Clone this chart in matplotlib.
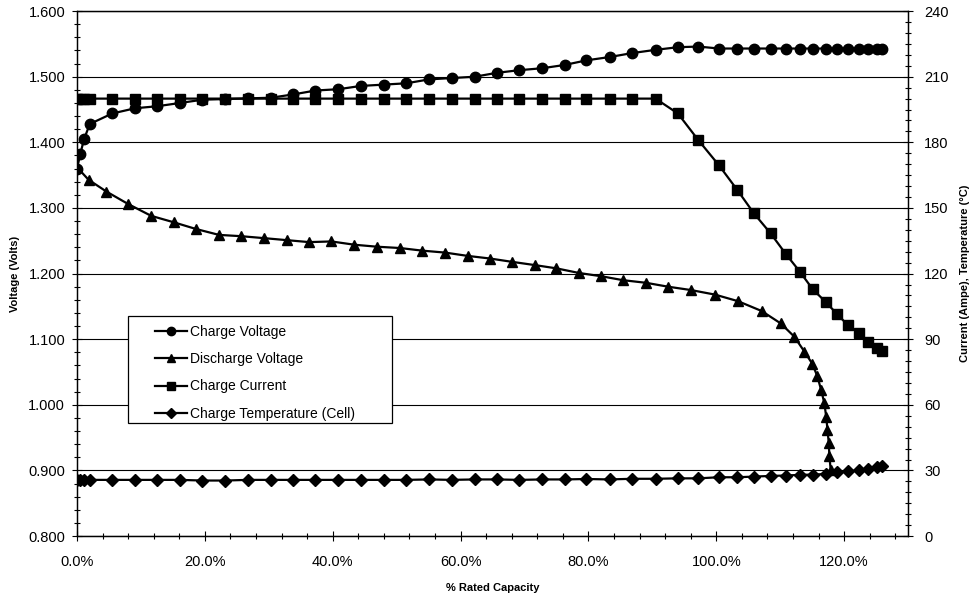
import numpy as np
import matplotlib.pyplot as plt
from matplotlib.patches import Rectangle
from matplotlib.ticker import MultipleLocator, FuncFormatter

plt.rcParams['font.family'] = ['Liberation Sans', 'DejaVu Sans']

# % rated capacity, shared by the charge series
cap_charge = [0.0, 0.5, 1.1, 2.0, 5.5, 9.1, 12.5, 16.1, 19.6, 23.2, 26.7, 30.3,
              33.8, 37.3, 40.9, 44.4, 48.0, 51.5, 55.1, 58.6, 62.2, 65.7, 69.2,
              72.8, 76.3, 79.7, 83.3, 86.8, 90.5, 94.0, 97.2, 100.4, 103.3,
              105.9, 108.5, 110.9, 113.1, 115.1, 117.1, 118.9, 120.6, 122.3,
              123.8, 125.2, 126.0]
charge_voltage = [1.360, 1.382, 1.405, 1.428, 1.444, 1.452, 1.455, 1.460, 1.465,
                  1.466, 1.467, 1.468, 1.473, 1.479, 1.481, 1.486, 1.488, 1.490,
                  1.496, 1.498, 1.500, 1.506, 1.510, 1.513, 1.518, 1.525, 1.530,
                  1.536, 1.541, 1.545, 1.546, 1.543, 1.543, 1.543, 1.543, 1.543,
                  1.543, 1.543, 1.543, 1.543, 1.543, 1.543, 1.543, 1.543, 1.543]
charge_current = [200, 200, 200, 200, 200, 200, 200, 200, 200, 200, 200, 200,
                  200, 200, 200, 200, 200, 200, 200, 200, 200, 200, 200, 200,
                  200, 200, 200, 200, 200, 193.2, 181.0, 169.6, 158.2, 147.5,
                  138.4, 128.9, 120.8, 112.8, 107.1, 101.5, 96.4, 92.7, 88.8,
                  85.8, 84.7]
charge_temp = [25.7, 25.7, 25.7, 25.7, 25.7, 25.7, 25.7, 25.7, 25.4, 25.4, 25.7,
               25.7, 25.7, 25.7, 25.7, 25.7, 25.7, 25.7, 25.9, 25.7, 25.9, 25.9,
               25.7, 25.9, 25.9, 26.1, 25.9, 26.2, 26.2, 26.4, 26.4, 26.9, 26.9,
               27.2, 27.5, 27.7, 28.0, 28.1, 28.4, 29.2, 29.6, 30.0, 30.6, 31.4,
               31.9]

cap_discharge = [0.0, 1.8, 4.6, 8.0, 11.6, 15.2, 18.6, 22.2, 25.7, 29.3, 32.8,
                 36.3, 39.8, 43.4, 46.9, 50.5, 54.0, 57.6, 61.1, 64.6, 68.0,
                 71.6, 75.0, 78.5, 82.0, 85.4, 89.0, 92.5, 96.0, 99.8, 103.4,
                 107.1, 110.1, 112.2, 113.8, 115.0, 115.8, 116.4, 116.9, 117.2,
                 117.4, 117.6, 117.7, 117.9]
discharge_voltage = [1.362, 1.343, 1.325, 1.306, 1.288, 1.278, 1.268, 1.259,
                     1.257, 1.254, 1.251, 1.248, 1.249, 1.244, 1.241, 1.239,
                     1.235, 1.232, 1.227, 1.223, 1.218, 1.213, 1.208, 1.201,
                     1.196, 1.190, 1.186, 1.180, 1.175, 1.168, 1.158, 1.143,
                     1.124, 1.104, 1.081, 1.063, 1.044, 1.023, 1.003, 0.982,
                     0.962, 0.942, 0.922, 0.901]

cap_charge = np.array(cap_charge) / 100
cap_discharge = np.array(cap_discharge) / 100

fig = plt.figure(figsize=(9.79, 6.01), dpi=100)
ax = fig.add_axes([0.0787, 0.108, 0.8488, 0.8735])
ax2 = ax.twinx()

l1, = ax.plot(cap_charge, charge_voltage, color='black', lw=1.6, marker='o', ms=7.5)
l2, = ax.plot(cap_discharge, discharge_voltage, color='black', lw=1.6, marker='^', ms=7.5)
l3, = ax2.plot(cap_charge, charge_current, color='black', lw=1.6, marker='s', ms=7)
l4, = ax2.plot(cap_charge, charge_temp, color='black', lw=1.6, marker='D', ms=6.3)

ax.set_xlim(0, 1.3)
ax.set_ylim(0.8, 1.6)
ax2.set_ylim(0, 240)

ax.xaxis.set_major_locator(MultipleLocator(0.2))
ax.xaxis.set_minor_locator(MultipleLocator(0.04))
ax.xaxis.set_major_formatter(FuncFormatter(lambda v, p: '{:.1f}%'.format(v * 100) if v < 1.25 else ''))
ax.yaxis.set_major_locator(MultipleLocator(0.1))
ax.yaxis.set_minor_locator(MultipleLocator(0.02))
ax.yaxis.set_major_formatter(FuncFormatter(lambda v, p: '{:.3f}'.format(v)))
ax2.yaxis.set_major_locator(MultipleLocator(30))
ax2.yaxis.set_minor_locator(MultipleLocator(5))

for a in (ax, ax2):
    a.tick_params(which='major', direction='inout', length=7, width=0.8, labelsize=10.5)
    a.tick_params(which='minor', direction='inout', length=5, width=0.8)
    for s in a.spines.values():
        s.set_linewidth(0.9)
ax.tick_params(axis='x', which='major', pad=10)
ax.tick_params(axis='y', which='major', pad=5)
ax2.tick_params(axis='y', which='major', pad=8)

ax.grid(axis='y', which='major', color='black', lw=0.8)
ax.set_axisbelow(True)

ax.set_xlabel('% Rated Capacity', fontsize=8, fontweight='bold', labelpad=10)
ax.set_ylabel('Voltage (Volts)', fontsize=8, fontweight='bold', labelpad=6)
ax2.set_ylabel('Current (Ampe), Temperature (°C)', fontsize=8, fontweight='bold', labelpad=8)

# legend box drawn separately so the entries sit inset from its left edge
ax2.add_patch(Rectangle((0.0614, 0.2152), 0.3177, 0.2038, transform=ax2.transAxes,
                        facecolor='white', edgecolor='black', lw=0.9, zorder=4.5))
leg = ax2.legend([l1, l2, l3, l4],
                 ['Charge Voltage', 'Discharge Voltage', 'Charge Current',
                  'Charge Temperature (Cell)'],
                 loc='upper left', bbox_to_anchor=(0.0939, 0.402),
                 borderaxespad=0, borderpad=0, fontsize=10, frameon=False,
                 handlelength=2.3, handletextpad=0.2, labelspacing=0.95,
                 markerscale=0.8)
leg.set_zorder(5)

fig.savefig('out.png', dpi=100)
